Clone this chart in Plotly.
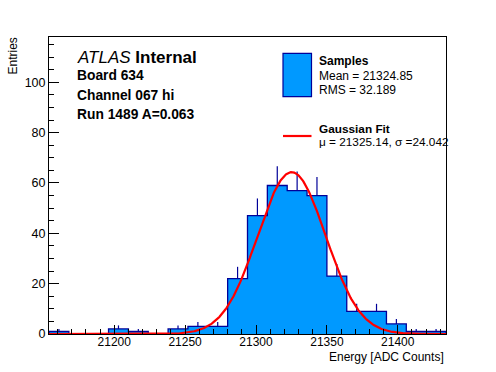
import numpy as np
import plotly.graph_objects as go

# ---- data ----
bin_edges_start = 21154
bin_width = 14
counts = [1, 0, 0, 2, 1, 0, 2, 3, 3, 22, 47, 59, 57, 55, 23, 9, 9, 4, 1, 1]
fit_mu = 21325.14
fit_sigma = 24.042
fit_amp = 64.3
x_ticks = [21200, 21250, 21300, 21350, 21400]
y_ticks = [0, 20, 40, 60, 80, 100]
info_lines = ["Board 634", "Channel 067 hi", "Run 1489 A=0.063"]
legend_samples = ["Samples", "Mean = 21324.85", "RMS = 32.189"]
legend_fit = ["Gaussian Fit", "\u03bc = 21325.14, \u03c3 =24.042"]

FILL = "#0099ff"
EDGE = "#000099"
FONT = "Liberation Sans, Arial, Helvetica, sans-serif"

n = len(counts)
edges = [bin_edges_start + i * bin_width for i in range(n + 1)]
centers = [bin_edges_start + (i + 0.5) * bin_width for i in range(n)]
xmin, xmax = edges[0], edges[-1]

fig = go.Figure()

# filled histogram with step outline
step_x = [edges[0]] + edges + [edges[-1]]
step_y = [0] + counts + [counts[-1], 0]
fig.add_trace(go.Scatter(
    x=step_x, y=step_y, mode="lines", line=dict(shape="hv", color=EDGE, width=1.3),
    fill="tozeroy", fillcolor=FILL, hoverinfo="skip", showlegend=False))

# error bars (upper half visible)
cx = [c for c, v in zip(centers, counts) if v > 0]
cy = [v for v in counts if v > 0]
fig.add_trace(go.Scatter(
    x=cx, y=cy, mode="markers", marker=dict(size=0.1, color=EDGE),
    error_y=dict(type="data", symmetric=False, array=[np.sqrt(v) for v in cy],
                 arrayminus=[0] * len(cy), color=EDGE, thickness=1.2, width=0),
    showlegend=False, hoverinfo="skip"))

# gaussian fit
xf = np.linspace(xmin, xmax, 600)
yf = fit_amp * np.exp(-0.5 * ((xf - fit_mu) / fit_sigma) ** 2)
fig.add_trace(go.Scatter(x=xf, y=yf, mode="lines", line=dict(color="#ff0000", width=2.2),
                         showlegend=False, hoverinfo="skip"))

W, H = 496, 372
L, R, T, B = 49, 446, 37, 334
pw, ph = R - L, B - T

def px(x):
    return (x - L) / pw

def py(y):
    return (B - y) / ph

ann = []
ann.append(dict(x=px(75), y=py(57), xref="paper", yref="paper", xanchor="left", yanchor="middle",
                text="<i>ATLAS</i> <b>Internal</b>", showarrow=False,
                font=dict(family=FONT, size=17, color="black")))
for t, yy in zip(info_lines, [76, 95.5, 114]):
    ann.append(dict(x=px(75), y=py(yy), xref="paper", yref="paper", xanchor="left", yanchor="middle",
                    text="<b>%s</b>" % t, showarrow=False, font=dict(family=FONT, size=13.8, color="black")))
for i, (t, yy) in enumerate(zip(legend_samples, [61, 76, 90])):
    ann.append(dict(x=px(317), y=py(yy), xref="paper", yref="paper", xanchor="left", yanchor="middle",
                    text=("<b>%s</b>" % t) if i == 0 else t, showarrow=False,
                    font=dict(family=FONT, size=12, color="black")))
for i, (t, yy) in enumerate(zip(legend_fit, [128.5, 141.5])):
    ann.append(dict(x=px(317), y=py(yy), xref="paper", yref="paper", xanchor="left", yanchor="middle",
                    text=("<b>%s</b>" % t) if i == 0 else t, showarrow=False,
                    font=dict(family=FONT, size=11.8, color="black")))
# axis titles
ann.append(dict(x=px(446), y=py(357), xref="paper", yref="paper", xanchor="right", yanchor="middle",
                text="Energy [ADC Counts]", showarrow=False, font=dict(family=FONT, size=12, color="black")))
ann.append(dict(x=px(13), y=py(36), xref="paper", yref="paper", xanchor="center", yanchor="top",
                text="Entries", textangle=-90, showarrow=False, font=dict(family=FONT, size=12, color="black")))

shapes = [
    dict(type="rect", xref="paper", yref="paper", x0=px(283), x1=px(311.5), y0=py(96.7), y1=py(53.3),
         fillcolor=FILL, line=dict(color=EDGE, width=1.2)),
    dict(type="line", xref="paper", yref="paper", x0=px(283), x1=px(311.5), y0=py(136), y1=py(136),
         line=dict(color="#ff0000", width=2.2)),
]

fig.update_layout(
    width=W, height=H,
    margin=dict(l=L, r=W - R, t=T, b=H - B, pad=0),
    paper_bgcolor="white", plot_bgcolor="white",
    font=dict(family=FONT, size=12, color="black"),
    annotations=ann, shapes=shapes, showlegend=False,
    xaxis=dict(range=[xmin, xmax], tickvals=x_ticks, ticktext=[str(v) for v in x_ticks],
               ticks="inside", ticklen=9, tickcolor="black", tickwidth=1,
               minor=dict(dtick=10, tick0=21200, ticks="inside", ticklen=5, tickcolor="black"),
               showline=True, linecolor="black", linewidth=1, mirror=True,
               showgrid=False, zeroline=False, tickfont=dict(size=12), ticklabelstandoff=-3),
    yaxis=dict(range=[0, 118], tickvals=y_ticks, ticktext=[str(v) for v in y_ticks],
               ticks="inside", ticklen=10, tickcolor="black", tickwidth=1,
               minor=dict(dtick=5, tick0=0, ticks="inside", ticklen=5, tickcolor="black"),
               showline=True, linecolor="black", linewidth=1, mirror=True,
               showgrid=False, zeroline=False, tickfont=dict(size=12.5)),
)

fig.write_html("out.html", config={"displayModeBar": False},
               post_script="document.body.style.margin='0';document.body.style.padding='0';")
